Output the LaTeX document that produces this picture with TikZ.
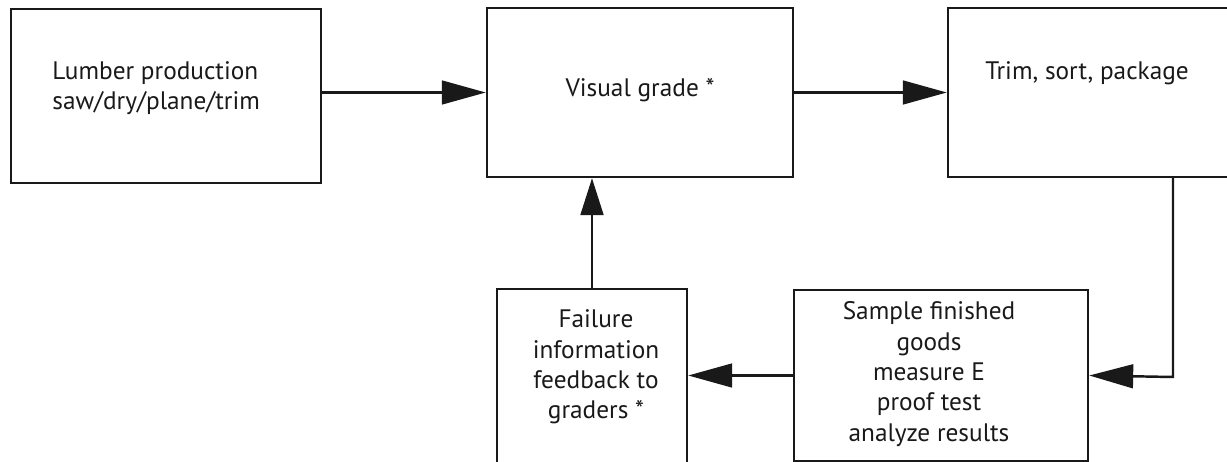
\documentclass[tikz,border=0pt]{standalone}
\usepackage{fontspec}
\setmainfont{PT Sans}
\usetikzlibrary{arrows.meta,fit,positioning}
\tikzset{
    stage/.style={
    rectangle,draw=black!90,line width=1.4pt,inner sep=0pt
    },
    caption/.style={
    font=\fontsize{14.4}{17.3}\selectfont,align=center,inner sep=0pt,text=black!90
    },
    flow/.style={
    line width=1.4pt,draw=black!90,-{Triangle[length=25pt,width=13.5pt]}
    },
    flowup/.style={
    line width=1.4pt,draw=black!90,-{Triangle[length=21pt,width=13pt]}
    },
}

\begin{document}
\begin{tikzpicture}[x=0.02cm,y=-0.02cm]
   \useasboundingbox (0,0) rectangle (1227,462);
   \clip (0,0) rectangle (1227,462);

   % boxes
   \node[stage,fit={(11,9) (321,183)}] (lumber) {};
   \node[stage,fit={(487,8) (793,177)}] (visual) {};
   \node[stage,fit={(948,8) (1245,177)}] (trim) {};
   \node[stage,fit={(497,289) (687,475)}] (failure) {};
   \node[stage,fit={(794,290) (1088,461)}] (sample) {};

   % texts
   \node[caption,align=left,anchor=west] (lumbertxt) at (52,88) {Lumber production\\saw/dry/plane/trim};
   \node[caption] (visualtxt) at (640,90) {Visual grade *};
   \node[caption] (trimtxt) at (1087,73) {Trim, sort, package};
   \node[caption] (failuretxt) at (596,367) {Failure\\information\\feedback to\\graders *};
   \node[caption] (sampletxt) at (929,374) {Sample finished\\goods\\measure E\\proof test\\analyze results};

   \coordinate (turn) at (1173,377);

  \draw[flow] (visual.west -| lumber.east) -- (visual.west);
  \draw[flow] (visual.east) -- (visual.east -| trim.west);
  \draw[flow] (turn |- trim.south) -- (turn) -- (sample.east);
  \draw[flow] (sample.west) -- (sample.west -| failure.east);
  \draw[flowup] (failure.north) -- (failure.north |- visual.south);
\end{tikzpicture}
\end{document}
